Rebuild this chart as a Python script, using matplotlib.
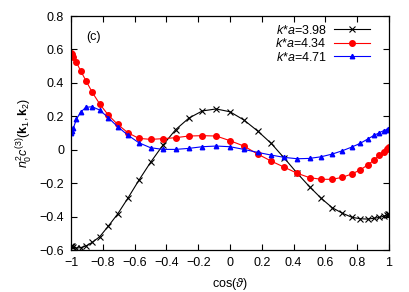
import matplotlib
matplotlib.use("Agg")
from matplotlib import pyplot as plt

plt.rcParams['font.family'] = ['Liberation Sans', 'DejaVu Sans']
plt.rcParams['mathtext.fontset'] = 'custom'
plt.rcParams['mathtext.rm'] = 'Liberation Sans'
plt.rcParams['mathtext.it'] = 'Liberation Sans:italic'
plt.rcParams['mathtext.bf'] = 'Liberation Sans:bold'

# cos(theta) nodes (theta every 5 degrees)
x = [-1.0, -0.996, -0.985, -0.966, -0.940, -0.906, -0.866, -0.819, -0.766, -0.707,
     -0.643, -0.574, -0.500, -0.423, -0.342, -0.259, -0.174, -0.087, 0.0, 0.087,
     0.174, 0.259, 0.342, 0.423, 0.500, 0.574, 0.643, 0.707, 0.766, 0.819,
     0.866, 0.906, 0.940, 0.966, 0.985, 0.996, 1.0]

c398 = [-0.575, -0.578, -0.584, -0.588, -0.586, -0.576, -0.554, -0.520, -0.458, -0.385,
        -0.291, -0.184, -0.076, 0.026, 0.120, 0.189, 0.232, 0.244, 0.227, 0.178,
        0.112, 0.038, -0.051, -0.141, -0.221, -0.291, -0.347, -0.380, -0.404, -0.413,
        -0.415, -0.410, -0.405, -0.398, -0.390, -0.385, -0.383]

c434 = [0.580, 0.575, 0.556, 0.523, 0.473, 0.413, 0.343, 0.273, 0.208, 0.152,
        0.102, 0.068, 0.062, 0.066, 0.072, 0.082, 0.084, 0.082, 0.054, 0.022,
        -0.026, -0.068, -0.105, -0.141, -0.167, -0.177, -0.177, -0.165, -0.145, -0.121,
        -0.091, -0.062, -0.032, -0.012, 0.002, 0.010, 0.014]

c471 = [0.100, 0.110, 0.130, 0.182, 0.224, 0.254, 0.257, 0.237, 0.192, 0.138,
        0.088, 0.042, 0.012, 0.002, 0.002, 0.008, 0.018, 0.022, 0.018, 0.002,
        -0.016, -0.032, -0.046, -0.054, -0.052, -0.042, -0.026, -0.006, 0.016, 0.038,
        0.064, 0.086, 0.102, 0.114, 0.120, 0.122, 0.124]

labels = [r'$k$*$a$=3.98', r'$k$*$a$=4.34', r'$k$*$a$=4.71']

fig = plt.figure(figsize=(4.09, 2.92), dpi=100)
ax = fig.add_axes([0.1736, 0.1438, 0.7775, 0.8014])

ax.plot(x, c398, color='black', lw=0.8, marker='x', ms=3.8, mew=0.8, label=labels[0])
ax.plot(x, c434, color='red', lw=0.8, marker='o', ms=4.0, label=labels[1])
ax.plot(x, c471, color='blue', lw=0.8, marker='^', ms=3.2, label=labels[2])

ax.set_xlim(-1, 1)
ax.set_ylim(-0.6, 0.8)
ax.set_xticks([-1, -0.8, -0.6, -0.4, -0.2, 0, 0.2, 0.4, 0.6, 0.8, 1])
ax.set_xticklabels(['\u22121', '\u22120.8', '\u22120.6', '\u22120.4', '\u22120.2', '0',
                    '0.2', '0.4', '0.6', '0.8', '1'])
ax.set_yticks([-0.6, -0.4, -0.2, 0, 0.2, 0.4, 0.6, 0.8])
ax.set_yticklabels(['\u22120.6', '\u22120.4', '\u22120.2', '0', '0.2', '0.4', '0.6', '0.8'])
ax.tick_params(direction='in', top=True, right=True, labelsize=9, length=4, width=0.8, pad=5)
for s in ax.spines.values():
    s.set_linewidth(0.9)

ax.set_xlabel(r'cos($\vartheta$)', fontsize=9, labelpad=5)
ax.set_ylabel(r'$n_0^2c^{(3)}(\mathbf{k}_1,\mathbf{k}_2)$', fontsize=9, labelpad=3)
ax.text(-0.856, 0.674, '(c)', fontsize=9, ha='center', va='center')

ax.legend(loc='upper right', frameon=False, markerfirst=False, fontsize=9,
          handlelength=2.9, labelspacing=0.05, borderaxespad=0.2, handletextpad=0.6,
          bbox_to_anchor=(0.965, 1.0))

fig.savefig('out.png', dpi=100)
